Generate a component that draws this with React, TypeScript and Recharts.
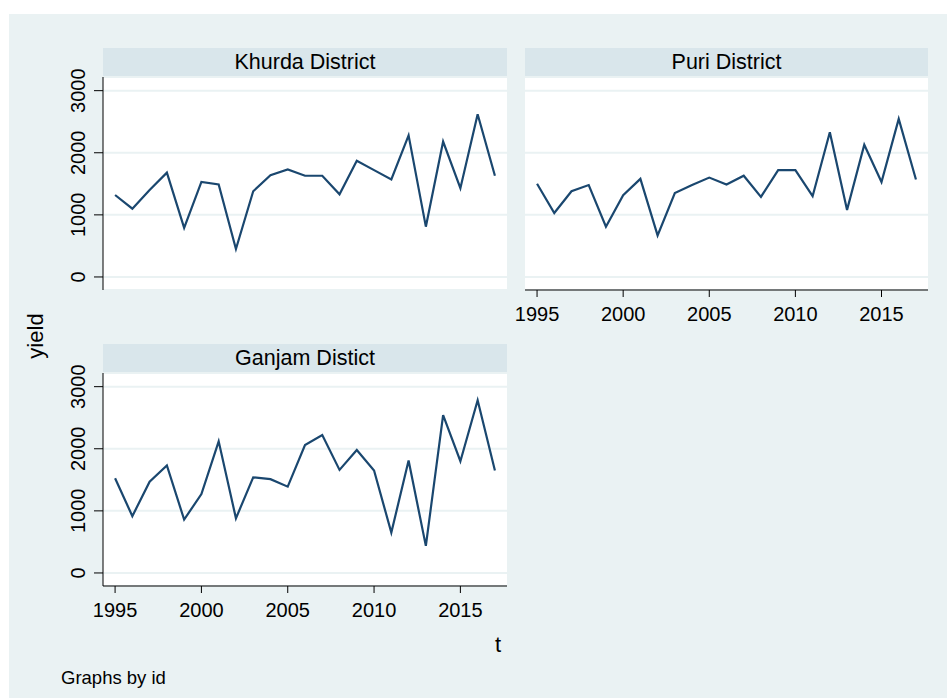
import React from 'react';
import { LineChart, Line, XAxis, YAxis, CartesianGrid } from 'recharts';

const years = [1995, 1996, 1997, 1998, 1999, 2000, 2001, 2002, 2003, 2004, 2005, 2006,
  2007, 2008, 2009, 2010, 2011, 2012, 2013, 2014, 2015, 2016, 2017];

const khurda = [1320, 1100, 1400, 1680, 790, 1530, 1490, 450, 1380, 1640, 1730, 1630,
  1630, 1330, 1870, 1720, 1570, 2280, 810, 2180, 1430, 2620, 1630];
const puri = [1500, 1030, 1380, 1480, 810, 1315, 1580, 670, 1350, 1480, 1600, 1490,
  1630, 1290, 1720, 1720, 1300, 2330, 1080, 2130, 1530, 2545, 1570];
const ganjam = [1525, 915, 1470, 1730, 860, 1270, 2120, 880, 1540, 1510, 1390, 2060,
  2220, 1660, 1980, 1650, 650, 1810, 436, 2540, 1800, 2780, 1650];

const yTicks = [0, 1000, 2000, 3000];
const xTicks = [1995, 2000, 2005, 2010, 2015];

const BG = '#eaf2f3';
const HEAD = '#d9e6eb';
const LINE = '#1a476f';
const FONT = 'Arial, "Liberation Sans", sans-serif';
const PAD = 20; // room around each plot so edge labels are not clipped

const rows = (vals: number[]) => years.map((y, i) => ({ year: y, yield: vals[i] }));

const YTick = (props: any) => {
  const { x, y, payload } = props;
  return (
    <text transform={`translate(${x},${y}) rotate(-90)`} textAnchor="middle"
      fontSize={20} fontFamily={FONT} fill="#000">
      {payload.value}
    </text>
  );
};

const XTick = (props: any) => {
  const { x, y, payload } = props;
  return (
    <text x={x} y={y} dy="0.71em" textAnchor="middle" fontSize={20} fontFamily={FONT} fill="#000">
      {payload.value}
    </text>
  );
};

interface PanelProps {
  title: string;
  vals: number[];
  left: number;
  top: number;
  width: number;
  showY: boolean;
  showX: boolean;
}

const Panel: React.FC<PanelProps> = ({ title, vals, left, top, width, showY, showX }) => {
  const yW = showY ? 63 : 0;
  const plotH = 213;
  const xH = showX ? 50 : 0;
  return (
    <>
      <div style={{
        position: 'absolute', left: left + yW, top: top - 29, width: width - yW, height: 28,
        background: HEAD, fontFamily: FONT, fontSize: 21.5, lineHeight: '28px',
        textAlign: 'center', color: '#000',
      }}>{title}</div>
      <div style={{ position: 'absolute', left: left - PAD, top: top - PAD }}>
        <LineChart width={width + 2 * PAD} height={plotH + xH + PAD + 3} data={rows(vals)}
          margin={{ top: PAD, right: PAD, bottom: 3, left: PAD }}>
          <CartesianGrid vertical={false} stroke={BG} strokeWidth={2} fill="#ffffff" />
          <XAxis dataKey="year" type="number" domain={[1994.3, 2017.7]} ticks={xTicks}
            interval={0} hide={!showX} height={50} tickSize={7} tickMargin={10}
            tick={<XTick />} stroke="#000" allowDataOverflow />
          <YAxis type="number" domain={[-210, 3220]} ticks={yTicks} interval={0} hide={!showY}
            width={63} tickSize={9} tickMargin={9} tick={<YTick />} stroke="#000"
            allowDataOverflow />
          <Line type="linear" dataKey="yield" stroke={LINE} strokeWidth={2.2} dot={false}
            isAnimationActive={false} />
        </LineChart>
      </div>
    </>
  );
};

export default function App() {
  return (
    <div style={{ position: 'absolute', left: 0, top: 0, width: 947, height: 698, background: '#fff', overflow: 'hidden' }}>
      <div style={{ position: 'absolute', left: 9, top: 14, width: 938, height: 684, background: BG }} />
      <Panel title="Khurda District" vals={khurda} left={40} top={77} width={467} showY showX={false} />
      <Panel title="Puri District" vals={puri} left={525} top={77} width={403} showY={false} showX />
      <Panel title="Ganjam Distict" vals={ganjam} left={40} top={373} width={467} showY showX />
      <svg style={{ position: 'absolute', left: 0, top: 0 }} width={947} height={698}>
        <text transform="translate(43,336) rotate(-90)" textAnchor="middle" fontSize={22}
          fontFamily={FONT} fill="#000">yield</text>
        <text x={498} y={652} textAnchor="middle" fontSize={22} fontFamily={FONT} fill="#000">t</text>
        <text x={61} y={684} fontSize={18.5} fontFamily={FONT} fill="#000">Graphs by id</text>
      </svg>
    </div>
  );
}
